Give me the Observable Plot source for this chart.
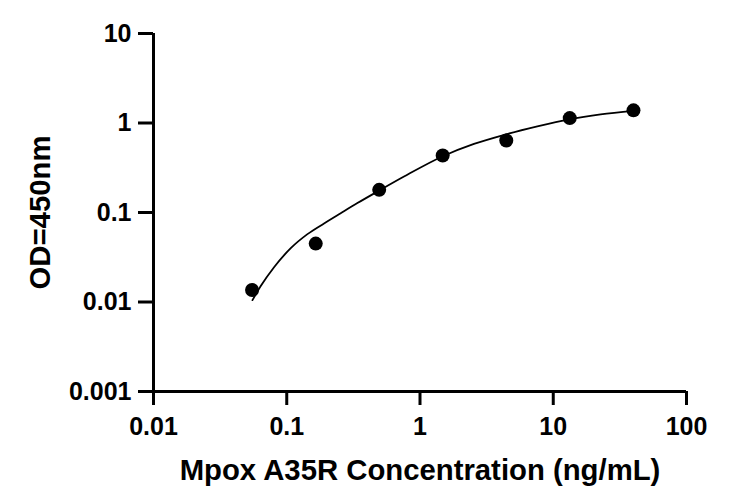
<!DOCTYPE html>
<html>
<head>
<meta charset="utf-8">
<script src="https://cdn.jsdelivr.net/npm/d3@7"></script>
<script src="https://cdn.jsdelivr.net/npm/@observablehq/plot@0.6"></script>
<style>
  html, body { margin: 0; padding: 0; background: #fff; }
  #chart svg { font-family: "Liberation Sans", Arial, sans-serif; font-weight: bold; }
</style>
</head>
<body>
<div id="chart"></div>
<script>
// Measured standards (3-fold dilution series)
const concentration = [0.0549, 0.165, 0.494, 1.48, 4.44, 13.3, 40];
const od = [0.0136, 0.0449, 0.179, 0.434, 0.638, 1.135, 1.384];

// Fitted curve
const fitConc = [0.0553, 0.0638, 0.0803, 0.1072, 0.143, 0.1905, 0.2541, 0.3391, 0.4792, 0.7586, 1.498, 2.542, 4.395, 7.597, 13.12, 22.68, 39.9];
const fitOD   = [0.0105, 0.01507, 0.02446, 0.03995, 0.0573, 0.0755, 0.0982, 0.1274, 0.1714, 0.2523, 0.4281, 0.5834, 0.7451, 0.9161, 1.097, 1.248, 1.366];

// Axis ticks and titles
const xTicks = [0.01, 0.1, 1, 10, 100];
const yTicks = [0.001, 0.01, 0.1, 1, 10];
const xTitle = "Mpox A35R Concentration (ng/mL)";
const yTitle = "OD=450nm";

const points = concentration.map((c, i) => ({c, od: od[i]}));
const fit = fitConc.map((c, i) => ({c, od: fitOD[i]}));

const chart = Plot.plot({
  width: 738,
  height: 501,
  marginLeft: 153,
  marginRight: 52,
  marginTop: 33,
  marginBottom: 110,
  x: {type: "log", domain: [0.01, 100]},
  y: {type: "log", domain: [0.001, 10]},
  marks: [
    Plot.axisX({ticks: xTicks, tickFormat: d => String(d), tickSize: 14, tickPadding: 12,
      strokeWidth: 3, fontSize: 25, label: null, color: "#000"}),
    Plot.axisY({ticks: yTicks, tickFormat: d => String(d), tickSize: 15, tickPadding: 7,
      strokeWidth: 3, fontSize: 25, label: null, color: "#000"}),
    Plot.ruleX([0.01], {stroke: "#000", strokeWidth: 3}),
    Plot.ruleY([0.001], {stroke: "#000", strokeWidth: 3}),
    Plot.line(fit, {x: "c", y: "od", stroke: "#000", strokeWidth: 1.8, curve: "monotone-x"}),
    Plot.dot(points, {x: "c", y: "od", r: 7, fill: "#000", stroke: "none"}),
    Plot.text([xTitle], {frameAnchor: "bottom", dy: 88, lineAnchor: "bottom", textAnchor: "middle",
      fontSize: 29.3, fontWeight: "bold", fill: "#000"}),
    Plot.text([yTitle], {frameAnchor: "left", dx: -104, rotate: -90, lineAnchor: "bottom", textAnchor: "middle",
      fontSize: 29.3, fontWeight: "bold", fill: "#000"})
  ]
});
document.getElementById("chart").appendChild(chart);
</script>
</body>
</html>
